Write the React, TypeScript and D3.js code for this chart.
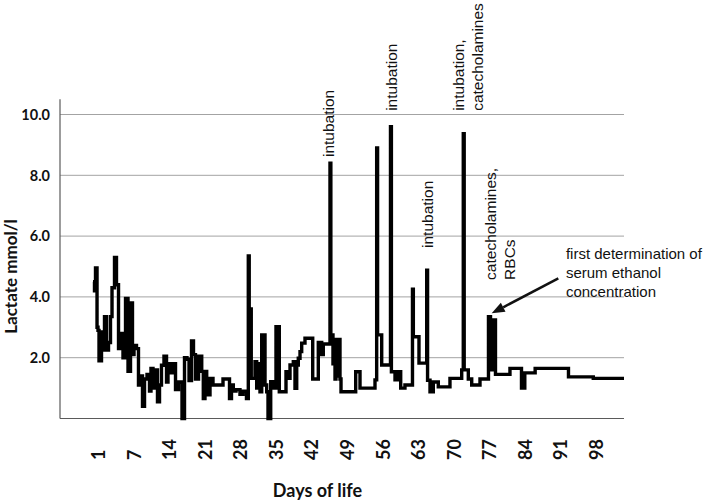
import React from "react";
import * as d3 from "d3";

// Day index (0 = "1" on the axis) and lactate values, step series
const days = [
  -1.10, -0.81, -0.61, -0.31, -0.12, 0.08, 0.57, 0.87, 1.16, 1.56,
  1.95, 2.34, 2.64, 3.13, 3.52, 3.92, 4.41, 4.80, 5.30, 5.79,
  6.28, 6.67, 6.97, 7.46, 7.85, 8.25, 8.64, 9.04, 9.53, 10.02,
  10.31, 10.71, 11.20, 11.59, 11.99, 12.38, 12.87, 13.37, 13.66, 14.15,
  14.65, 15.14, 15.73, 16.42, 16.91, 17.40, 17.80, 18.29, 18.68, 19.07,
  19.67, 20.30, 20.61, 20.94, 21.28, 21.59, 21.93, 22.52, 24.49, 25.77,
  26.16, 26.52, 27.05, 27.83, 28.43, 29.11, 29.47, 29.65, 30.05, 30.79,
  31.12, 31.44, 31.77, 32.11, 32.76, 33.09, 33.35, 33.88, 34.39, 34.92,
  35.57, 36.89, 37.34, 37.68, 38.33, 38.66, 39.00, 39.31, 39.65, 39.98,
  40.63, 42.15, 43.25, 43.92, 44.23, 45.55, 45.72, 46.14, 46.34, 46.54,
  46.73, 46.93, 47.13, 47.52, 47.72, 50.61, 51.46, 54.41, 54.74, 54.92,
  55.73, 57.46, 57.64, 58.35, 58.80, 59.47, 60.31, 61.79, 61.96, 63.07,
  64.59, 64.76, 65.24, 65.89, 66.87, 69.17, 71.48, 71.79, 71.97, 72.78,
  73.45, 75.08, 76.75, 77.15, 77.74, 78.13, 80.98, 83.25, 83.90, 85.94,
  92.50, 97.38, 103.43,
];

const lactate = [
  4.5, 4.2, 4.95, 3.0, 2.9, 1.9, 2.85, 2.25, 3.35, 2.25,
  2.5, 3.35, 4.3, 5.3, 4.4, 2.3, 2.8, 2.0, 3.95, 1.55,
  3.8, 2.1, 2.4, 2.3, 1.1, 1.4, 0.4, 1.3, 1.45, 0.9,
  1.65, 1.0, 1.6, 0.55, 1.1, 1.75, 2.05, 1.2, 1.8, 1.5,
  1.8, 0.95, 1.2, 0, 2.0, 1.95, 1.25, 2.55, 2.1, 1.3,
  2.05, 1.55, 0.66, 1.55, 1.32, 0.78, 1.32, 1.1, 1.3, 0.66,
  1.1, 0.9, 0.95, 0.8, 0.9, 0.66, 5.35, 3.6, 1.32, 1.87,
  1.0, 1.8, 0.88, 2.75, 1.1, 0.88, 0, 1.21, 1.0, 3.02,
  0.88, 1.54, 1.32, 1.76, 1.87, 0.99, 1.76, 1.98, 2.2, 2.48,
  2.64, 1.3, 2.5, 2.1, 2.45, 8.4, 2.75, 1.8, 2.6, 1.3,
  2.2, 1.4, 2.6, 1.3, 0.88, 1.54, 1.0, 1.27, 8.9, 2.75,
  1.76, 9.6, 1.54, 1.27, 1.54, 1.0, 1.1, 4.25, 2.69, 1.82,
  4.88, 1.26, 0.88, 1.2, 1.04, 1.32, 1.6, 9.37, 1.6, 1.3,
  1.1, 1.3, 3.35, 1.6, 3.24, 1.45, 1.65, 1.0, 1.5, 1.65,
  1.37, 1.32, 1.32,
];

const yTicks = [2, 4, 6, 8, 10];
const xTickPositions = [0, 7, 14, 21, 28, 35, 42, 49, 56, 63, 70, 77, 84, 91, 98];
const xTickLabels = ["1", "7", "14", "21", "28", "35", "42", "49", "56", "63", "70", "77", "84", "91", "98"];

// rotated annotations: [day, value, lines...]
const rotatedNotes: { day: number; value: number; lines: string[] }[] = [
  { day: 46.34, value: 8.6, lines: ["intubation"] },
  { day: 58.68, value: 10.12, lines: ["intubation"] },
  { day: 65.89, value: 5.61, lines: ["intubation"] },
  { day: 72.03, value: 10.12, lines: ["intubation,", "catecholamines"] },
  { day: 78.33, value: 4.56, lines: ["catecholamines,", "RBCs"] },
];
const ethanolNote = ["first determination of", "serum ethanol", "concentration"];

export default function App() {
  const W = 712;
  const H = 501;
  const x = d3.scaleLinear().domain([-7.6, 103.43]).range([60, 624]);
  const y = d3.scaleLinear().domain([0, 10.5]).range([418.5, 99.3]);

  const pts: [number, number][] = days.map((d, i) => [d, lactate[i]]);
  const line = d3
    .line<[number, number]>()
    .x((d) => x(d[0]))
    .y((d) => y(d[1]))
    .curve(d3.curveStepAfter);

  const axisFont = "Lato, 'Open Sans', sans-serif";
  const noteFont = "'Liberation Sans', Arial, sans-serif";

  const arrowFrom: [number, number] = [90.5, 4.61];
  const arrowTo: [number, number] = [77.38, 3.46];
  const ax1 = x(arrowFrom[0]), ay1 = y(arrowFrom[1]);
  const ax2 = x(arrowTo[0]), ay2 = y(arrowTo[1]);
  const ang = Math.atan2(ay2 - ay1, ax2 - ax1);
  const headLen = 13, headW = 5;
  const bx = ax2 - headLen * Math.cos(ang);
  const by = ay2 - headLen * Math.sin(ang);
  const px = -Math.sin(ang) * headW, py = Math.cos(ang) * headW;

  return (
    <svg
      width={W}
      height={H}
      style={{ position: "absolute", left: 0, top: 0, background: "#fff" }}
    >
      <rect x={0} y={0} width={W} height={H} fill="#fff" />
      {/* gridlines */}
      {yTicks.map((t) => (
        <line key={t} x1={x(-7.6)} x2={x(103.43)} y1={y(t)} y2={y(t)} stroke="#a3a3a3" strokeWidth={1} />
      ))}
      {/* axes */}
      <line x1={60} x2={60} y1={y(10.5)} y2={y(0)} stroke="#5a5a5a" strokeWidth={1.2} />
      <line x1={60} x2={x(103.43)} y1={y(0)} y2={y(0)} stroke="#5a5a5a" strokeWidth={1.2} />

      {/* y tick labels */}
      {yTicks.map((t) => (
        <text
          key={t}
          x={50}
          y={y(t)}
          dy="0.36em"
          textAnchor="end"
          fontFamily={axisFont}
          fontWeight={700}
          fontSize={14.5}
          fill="#111"
        >
          {t.toFixed(1)}
        </text>
      ))}

      {/* x tick labels (rotated) */}
      {xTickPositions.map((p, i) => (
        <text
          key={p}
          transform={`translate(${x(p)},460) rotate(-90)`}
          dy="0.36em"
          textAnchor="start"
          fontFamily={axisFont}
          fontWeight={700}
          fontSize={18}
          fill="#111"
        >
          {xTickLabels[i]}
        </text>
      ))}

      {/* axis titles */}
      <text
        x={317.5}
        y={496.5}
        textAnchor="middle"
        fontFamily={axisFont}
        fontWeight={700}
        fontSize={18}
        fill="#111"
      >
        Days of life
      </text>
      <text
        transform="translate(16.5,276.5) rotate(-90)"
        textAnchor="middle"
        fontFamily={axisFont}
        fontWeight={700}
        fontSize={17}
        fill="#111"
      >
        Lactate mmol/l
      </text>

      {/* data */}
      <path
        d={line(pts) || ""}
        fill="none"
        stroke="#000"
        strokeWidth={3.4}
        strokeLinejoin="miter"
      />

      {/* rotated annotations */}
      {rotatedNotes.map((n, i) =>
        n.lines.map((l, j) => (
          <text
            key={`${i}-${j}`}
            transform={`translate(${x(n.day) + j * 19},${y(n.value)}) rotate(-90)`}
            textAnchor="start"
            fontFamily={noteFont}
            fontSize={15.5}
            fill="#111"
          >
            {l}
          </text>
        ))
      )}

      {/* horizontal annotation */}
      {ethanolNote.map((l, i) => (
        <text
          key={l}
          x={x(92.0)}
          y={y(5.25) + i * 19.2}
          fontFamily={noteFont}
          fontSize={15}
          fill="#111"
        >
          {l}
        </text>
      ))}

      {/* arrow */}
      <line x1={ax1} y1={ay1} x2={bx} y2={by} stroke="#111" strokeWidth={2.5} />
      <path
        d={`M${ax2},${ay2} L${bx + px},${by + py} L${bx - px},${by - py} Z`}
        fill="#111"
      />
    </svg>
  );
}
